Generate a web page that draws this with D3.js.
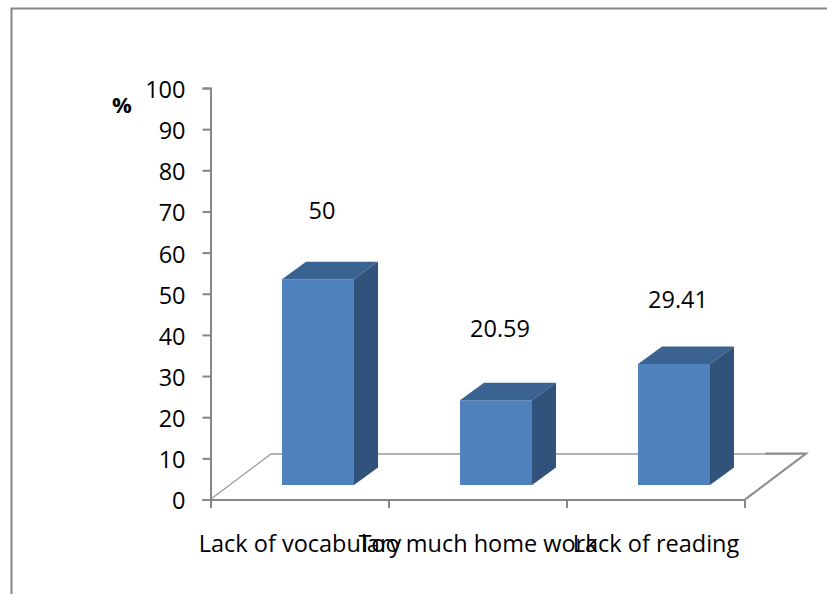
<!DOCTYPE html>
<html><head><meta charset="utf-8">
<script src="https://cdn.jsdelivr.net/npm/d3@7/dist/d3.min.js"></script>
<style>html,body{margin:0;padding:0;background:#fff}svg{display:block}text{font-family:"Open Sans",sans-serif;fill:#000}</style>
</head><body><svg id="c" width="827" height="594"></svg>
<script>
const categories = ["Lack of vocabulary","Too much home work","Lack of reading"];
const values = [50,20.59,29.41];
const yTicks = [0,10,20,30,40,50,60,70,80,90,100];
const yTitle = "%";

const svg = d3.select("#c");
const axisColor = "#868686";
const fontSize = 23.5;
const y = d3.scaleLinear().domain([0,100]).range([499.5,88]);
const x = d3.scaleBand().domain(categories).range([211,745]);
const depthX = 24, depthY = 17.5, floorLift = 14.5, barW = 72, barShift = 18;
const labelLift = d3.scaleOrdinal().domain(categories).range([70,73,66]);

// chart frame
svg.append("path").attr("d","M11.5,594V8.5H827").attr("fill","none").attr("stroke","#868686").attr("stroke-width",2);

// floor
svg.append("path").attr("d",`M211,499L271,454H806L745,499`).attr("fill","none").attr("stroke","#9a9a9a").attr("stroke-width",1.3);
svg.append("path").attr("d",`M765,453.5H806L746,499`).attr("fill","none").attr("stroke","#8c8c8c").attr("stroke-width",2);

// axes
const yAxis = svg.append("g").attr("transform","translate(210.5,0)")
  .call(d3.axisLeft(y).tickValues(yTicks).tickSize(8).tickPadding(17));
yAxis.selectAll("path,line").attr("stroke",axisColor).attr("stroke-width",2);
yAxis.selectAll("text").attr("font-size",fontSize).attr("font-family","Open Sans").attr("dy","0.4em");
const xAxis = svg.append("g").attr("transform","translate(0,499.5)")
  .call(d3.axisBottom(x).tickValues([]).tickSize(0));
xAxis.selectAll("path").attr("stroke",axisColor).attr("stroke-width",2);
const edges = [...categories.map(c=>x(c)), 745];
svg.selectAll("line.xt").data(edges).join("line").attr("class","xt")
  .attr("x1",d=>d).attr("x2",d=>d).attr("y1",499).attr("y2",508)
  .attr("stroke",axisColor).attr("stroke-width",2);

// bars
const data = categories.map((c,i)=>({c,v:values[i]}));
const bar = svg.selectAll("g.bar").data(data).join("g").attr("class","bar");
const bx = d=>x(d.c)+x.bandwidth()/2-barW/2+barShift;
const barTop = d=>y(d.v)-floorLift, barBot = y(0)-floorLift;
bar.append("rect").attr("x",bx).attr("y",barTop).attr("width",barW).attr("height",d=>barBot-barTop(d)).attr("fill","#4f81bd");
bar.append("path").attr("fill","#3b6391").attr("d",d=>{const a=bx(d),t=barTop(d);return `M${a},${t}l${depthX},${-depthY}h${barW}l${-depthX},${depthY}Z`;});
bar.append("path").attr("fill","#31527b").attr("d",d=>{const r=bx(d)+barW,t=barTop(d);return `M${r},${t}l${depthX},${-depthY}V${barBot-depthY}L${r},${barBot}Z`;});

// value labels
bar.append("text").attr("x",d=>bx(d)+barW/2+4).attr("y",d=>barTop(d)-labelLift(d.c)+10).attr("text-anchor","middle").attr("font-size",fontSize).text(d=>d.v);

// category labels
svg.selectAll("text.cat").data(categories).join("text").attr("class","cat")
  .attr("x",d=>x(d)+x.bandwidth()/2).attr("y",552).attr("text-anchor","middle").attr("font-size",fontSize).text(d=>d);

svg.append("text").attr("x",122).attr("y",113).attr("text-anchor","middle").attr("font-size",22).attr("font-weight","bold").text(yTitle);
</script></body></html>
